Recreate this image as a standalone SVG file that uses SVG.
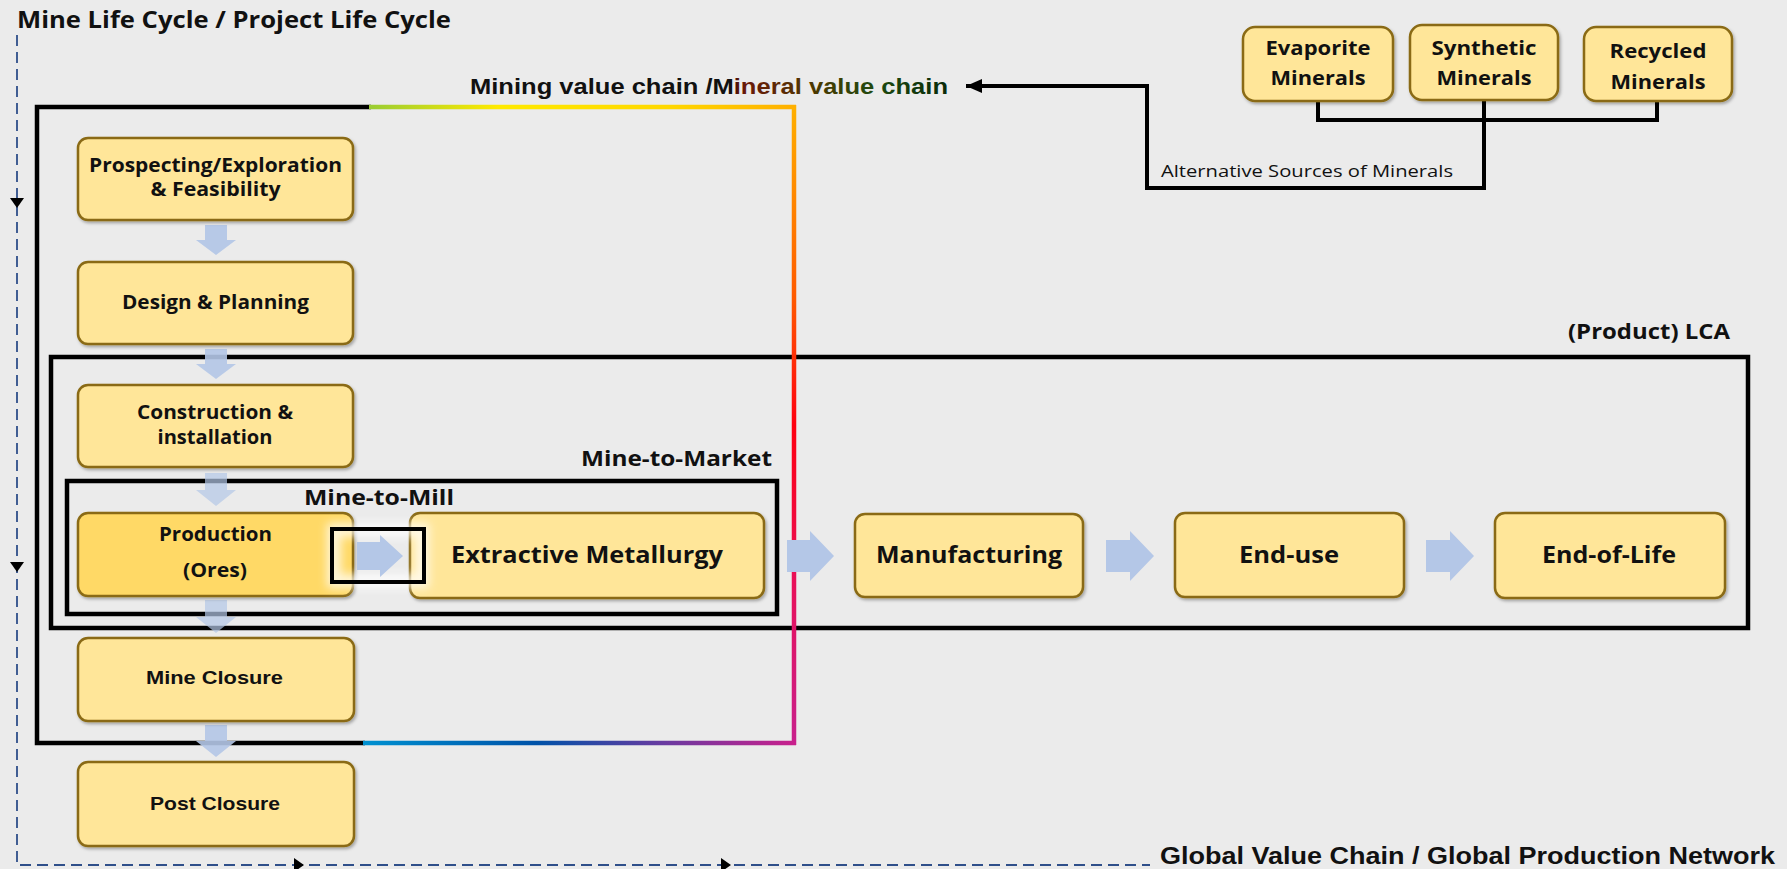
<svg xmlns="http://www.w3.org/2000/svg" width="1787" height="869" viewBox="0 0 1787 869">
  <defs>
    <style>
      .box { fill: #FFE699; stroke: #8A6A12; stroke-width: 2.5; filter: url(#shadow); }
      .box.hot { fill: #FFD966; }
      .lbl { font-family: "Open Sans", "Liberation Sans", sans-serif; font-weight: 700; fill: #111; }
      .cal { font-family: "Liberation Sans", Arial, sans-serif; font-weight: 700; fill: #111; }
      .reg { font-family: "Open Sans", "Liberation Sans", sans-serif; font-weight: 400; fill: #111; }
      .frame { fill: none; stroke: #000; stroke-width: 4.5; }
      .flow { fill: #B4C7E7; }
      .wire { fill: none; stroke: #000; stroke-width: 4; }
      .dash { fill: none; stroke: #2F4F8A; stroke-width: 1.8; stroke-dasharray: 11 6; }
      .tick { fill: #000; }
    </style>
    <filter id="shadow" x="-10%" y="-10%" width="125%" height="135%">
      <feDropShadow dx="1.5" dy="2" stdDeviation="1.5" flood-color="#000" flood-opacity="0.3"/>
    </filter>
    <filter id="glow" x="-30%" y="-50%" width="160%" height="200%">
      <feGaussianBlur stdDeviation="5"/>
    </filter>
    <linearGradient id="gTop" gradientUnits="userSpaceOnUse" x1="371" y1="0" x2="794" y2="0">
      <stop offset="0" stop-color="#9ACD32"/>
      <stop offset="0.3" stop-color="#FFEA00"/>
      <stop offset="0.7" stop-color="#FFD800"/>
      <stop offset="1" stop-color="#FFB000"/>
    </linearGradient>
    <linearGradient id="gRight" gradientUnits="userSpaceOnUse" x1="0" y1="107" x2="0" y2="743">
      <stop offset="0" stop-color="#FFB000"/>
      <stop offset="0.3" stop-color="#FF5A00"/>
      <stop offset="0.5" stop-color="#FF0010"/>
      <stop offset="0.75" stop-color="#E8105A"/>
      <stop offset="1" stop-color="#C8208C"/>
    </linearGradient>
    <linearGradient id="gBottom" gradientUnits="userSpaceOnUse" x1="794" y1="0" x2="365" y2="0">
      <stop offset="0" stop-color="#C8208C"/>
      <stop offset="0.3" stop-color="#6A3AA0"/>
      <stop offset="0.6" stop-color="#0052A8"/>
      <stop offset="1" stop-color="#0090D0"/>
    </linearGradient>
    <linearGradient id="gText" gradientUnits="userSpaceOnUse" x1="710" y1="0" x2="948" y2="0">
      <stop offset="0" stop-color="#000"/>
      <stop offset="0.15" stop-color="#6A1A08"/>
      <stop offset="0.45" stop-color="#4A3A00"/>
      <stop offset="0.7" stop-color="#1E4A10"/>
      <stop offset="1" stop-color="#0A2A0A"/>
    </linearGradient>
    <marker id="head" markerUnits="userSpaceOnUse" markerWidth="18" markerHeight="16" refX="16" refY="8" orient="auto">
      <path d="M0,1 L16,8 L0,15 Z" fill="#000"/>
    </marker>
  </defs>

  <rect width="1787" height="869" fill="#EBEBEB"/>

  <!-- Framing scopes -->
  <g id="scope-lca">
    <rect class="frame" x="51" y="357" width="1697" height="271"/>
    <text class="lbl" x="1568" y="339" font-size="21" textLength="162" lengthAdjust="spacingAndGlyphs">(Product) LCA</text>
  </g>
  <g id="scope-mine-to-market">
    <rect class="frame" x="67" y="481" width="710" height="133"/>
    <text class="lbl" x="581" y="466" font-size="21" textLength="191" lengthAdjust="spacingAndGlyphs">Mine-to-Market</text>
    <text class="lbl" x="304" y="505" font-size="21" textLength="150" lengthAdjust="spacingAndGlyphs">Mine-to-Mill</text>
  </g>
  <g id="scope-value-chain">
    <path d="M365,743 H37 V107 H371" fill="none" stroke="#000" stroke-width="4.5"/>
    <line x1="369" y1="107" x2="796" y2="107" stroke="url(#gTop)" stroke-width="4.5"/>
    <line x1="794" y1="105" x2="794" y2="745" stroke="url(#gRight)" stroke-width="4.5"/>
    <line x1="796" y1="743" x2="363" y2="743" stroke="url(#gBottom)" stroke-width="4.5"/>
    <text class="cal" x="470" y="94" font-size="22" textLength="478" lengthAdjust="spacingAndGlyphs">Mining value chain /M<tspan fill="url(#gText)">ineral value chain</tspan></text>
  </g>

  <!-- Life-cycle timeline -->
  <g id="timeline">
    <path class="dash" d="M17,35 V865 H1150"/>
    <path class="tick" d="M10,198 L24,198 L17,208 Z"/>
    <path class="tick" d="M10,562 L24,562 L17,572 Z"/>
    <path class="tick" d="M294,858 L294,872 L304,865 Z"/>
    <path class="tick" d="M721,858 L721,872 L731,865 Z"/>
    <text class="lbl" x="17" y="28" font-size="23" textLength="434" lengthAdjust="spacingAndGlyphs">Mine Life Cycle / Project Life Cycle</text>
    <text class="cal" x="1160" y="864" font-size="23" textLength="615" lengthAdjust="spacingAndGlyphs">Global Value Chain / Global Production Network</text>
  </g>

  <!-- Flow arrows and links -->
  <g id="connectors">
    <path class="flow" opacity="0.95" d="M205,225 H227 V240 H236 L216,255 L196,240 H205 Z"/>
    <path class="flow" opacity="0.9" d="M205,349 H227 V364 H236 L216,379 L196,364 H205 Z"/>
    <path class="flow" opacity="0.7" d="M205,473 H227 V490 H236 L216,506 L196,490 H205 Z"/>
    <path class="flow" opacity="0.7" d="M205,600 H227 V617 H236 L216,633 L196,617 H205 Z"/>
    <path class="flow" opacity="0.9" d="M205,725 H227 V741 H236 L216,757 L196,741 H205 Z"/>
    <path class="flow" d="M787,540 H810 V531 L834,556 L810,581 V572 H787 Z"/>
    <path class="flow" d="M1106,540 H1130 V531 L1154,556 L1130,581 V572 H1106 Z"/>
    <path class="flow" d="M1426,540 H1450 V531 L1474,556 L1450,581 V572 H1426 Z"/>
    <path class="wire" d="M1318,101 V120 H1657 V101"/>
    <path class="wire" d="M1484,100 V188 H1147 V86 H966" marker-end="url(#head)"/>
    <text class="reg" x="1161" y="177" font-size="17" textLength="292" lengthAdjust="spacingAndGlyphs">Alternative Sources of Minerals</text>
  </g>

  <!-- Mine life-cycle stages -->
  <g id="node-prospecting">
    <rect class="box" x="78" y="138" width="275" height="82" rx="10"/>
    <text class="lbl" x="215.5" y="172" font-size="19.5" text-anchor="middle" textLength="253" lengthAdjust="spacingAndGlyphs">Prospecting/Exploration</text>
    <text class="lbl" x="215.5" y="196" font-size="19.5" text-anchor="middle" textLength="130" lengthAdjust="spacingAndGlyphs">&amp; Feasibility</text>
  </g>
  <g id="node-design">
    <rect class="box" x="78" y="262" width="275" height="82" rx="10"/>
    <text class="lbl" x="215.5" y="309" font-size="20" text-anchor="middle" textLength="187" lengthAdjust="spacingAndGlyphs">Design &amp; Planning</text>
  </g>
  <g id="node-construction">
    <rect class="box" x="78" y="385" width="275" height="82" rx="10"/>
    <text class="lbl" x="215" y="419" font-size="20" text-anchor="middle" textLength="156" lengthAdjust="spacingAndGlyphs">Construction &amp;</text>
    <text class="lbl" x="215" y="444" font-size="20" text-anchor="middle" textLength="115" lengthAdjust="spacingAndGlyphs">installation</text>
  </g>
  <g id="node-production">
    <rect class="box hot" x="78" y="513" width="275" height="83" rx="10"/>
    <text class="lbl" x="215.5" y="541" font-size="19" text-anchor="middle" textLength="113" lengthAdjust="spacingAndGlyphs">Production</text>
    <text class="lbl" x="215" y="577" font-size="19" text-anchor="middle" textLength="64" lengthAdjust="spacingAndGlyphs">(Ores)</text>
  </g>
  <g id="node-mine-closure">
    <rect class="box" x="78" y="638" width="276" height="83" rx="10"/>
    <text class="cal" x="214.5" y="684" font-size="19" text-anchor="middle" textLength="137" lengthAdjust="spacingAndGlyphs">Mine Closure</text>
  </g>
  <g id="node-post-closure">
    <rect class="box" x="78" y="762" width="276" height="84" rx="10"/>
    <text class="cal" x="215" y="810" font-size="19" text-anchor="middle" textLength="130" lengthAdjust="spacingAndGlyphs">Post Closure</text>
  </g>

  <!-- Downstream stages -->
  <g id="node-extractive-metallurgy">
    <rect class="box" x="410" y="513" width="354" height="85" rx="10"/>
    <text class="lbl" x="587" y="563" font-size="24" text-anchor="middle" textLength="272" lengthAdjust="spacingAndGlyphs">Extractive Metallurgy</text>
  </g>
  <g id="node-manufacturing">
    <rect class="box" x="855" y="514" width="228" height="83" rx="10"/>
    <text class="lbl" x="969" y="563" font-size="24" text-anchor="middle" textLength="186" lengthAdjust="spacingAndGlyphs">Manufacturing</text>
  </g>
  <g id="node-end-use">
    <rect class="box" x="1175" y="513" width="229" height="84" rx="10"/>
    <text class="lbl" x="1289" y="563" font-size="24" text-anchor="middle" textLength="100" lengthAdjust="spacingAndGlyphs">End-use</text>
  </g>
  <g id="node-end-of-life">
    <rect class="box" x="1495" y="513" width="230" height="85" rx="10"/>
    <text class="lbl" x="1609" y="563" font-size="24" text-anchor="middle" textLength="134" lengthAdjust="spacingAndGlyphs">End-of-Life</text>
  </g>

  <!-- Mill interface: glow, arrow and highlight frame -->
  <g id="node-mill-link">
    <rect x="334" y="530" width="88" height="51" fill="none" stroke="#FFFFFF" stroke-width="14" opacity="0.75" filter="url(#glow)"/>
    <path class="flow" d="M357,542 H380 V535 L403,556 L380,577 V570 H357 Z"/>
    <rect x="332" y="529" width="92" height="53" fill="none" stroke="#000" stroke-width="4"/>
  </g>

  <!-- Alternative mineral sources -->
  <g id="node-evaporite">
    <rect class="box" x="1243" y="27" width="150" height="74" rx="12"/>
    <text class="lbl" x="1318" y="55" font-size="19" text-anchor="middle" textLength="105" lengthAdjust="spacingAndGlyphs">Evaporite</text>
    <text class="lbl" x="1318" y="85" font-size="19" text-anchor="middle" textLength="95" lengthAdjust="spacingAndGlyphs">Minerals</text>
  </g>
  <g id="node-synthetic">
    <rect class="box" x="1410" y="25" width="148" height="75" rx="12"/>
    <text class="lbl" x="1484" y="55" font-size="19" text-anchor="middle" textLength="105" lengthAdjust="spacingAndGlyphs">Synthetic</text>
    <text class="lbl" x="1484" y="85" font-size="19" text-anchor="middle" textLength="95" lengthAdjust="spacingAndGlyphs">Minerals</text>
  </g>
  <g id="node-recycled">
    <rect class="box" x="1584" y="27" width="148" height="74" rx="12"/>
    <text class="lbl" x="1658" y="58" font-size="19" text-anchor="middle" textLength="97" lengthAdjust="spacingAndGlyphs">Recycled</text>
    <text class="lbl" x="1658" y="89" font-size="19" text-anchor="middle" textLength="95" lengthAdjust="spacingAndGlyphs">Minerals</text>
  </g>
</svg>
